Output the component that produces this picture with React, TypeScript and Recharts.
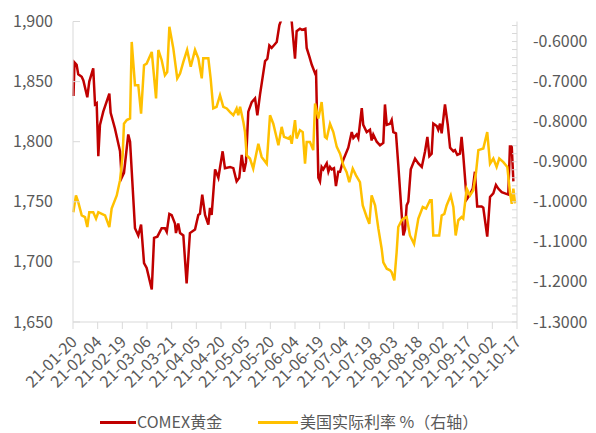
import React from 'react';
import { LineChart, Line, XAxis, YAxis, Legend } from 'recharts';

// x positions are days since 2021-01-20
const goldDays = [0.3,0.9,2.2,3.2,5.3,6.3,8.7,9.9,12.3,13.4,14.4,15.4,16.4,18.4,22.1,22.9,25.5,28.6,29.6,31.0,33.6,34.7,37.7,39.7,41.4,43.2,44.8,47.9,49.3,51.3,53.9,55.9,57.0,58.6,60.0,62.0,62.6,64.0,65.1,67.1,69.1,71.1,74.2,76.2,77.2,78.6,80.3,82.3,83.3,84.3,86.4,88.4,91.0,92.4,95.5,97.5,99.5,101.1,102.6,104.0,105.2,106.6,108.7,110.7,112.1,113.7,116.8,118.2,119.4,120.8,123.9,125.5,127.9,130.1,133.0,135.0,136.0,138.0,139.3,141.3,142.1,143.7,145.2,147.2,147.8,149.2,150.2,151.2,152.2,154.3,155.3,156.3,157.3,158.7,159.9,161.3,162.4,164.4,167.4,169.5,170.5,172.5,173.5,175.6,176.5,178.6,180.6,181.6,182.6,184.7,186.7,188.7,189.7,190.8,192.8,193.8,194.8,196.4,197.8,199.9,200.9,201.9,202.9,203.9,205.4,208.0,210.0,212.1,214.1,215.5,216.7,218.1,219.1,221.2,222.1,223.2,224.2,226.2,227.9,229.3,231.3,232.3,233.7,235.3,236.3,237.3,239.4,241.4,243.1,244.4,245.8,248.5,249.5,251.9,253.6,255.6,257.2,258.6,260.7,262.7,264.7,265.7,266.8,267.8];
const goldPrice = [1838,1866,1864,1856,1854,1851,1837,1850,1861,1831,1832,1788,1814,1825,1840,1824,1811,1792,1770,1774,1806,1800,1728,1722,1731,1699,1695,1677,1720,1721,1728,1728,1725,1740,1739,1732,1724,1732,1724,1722,1682,1724,1727,1739,1740,1756,1739,1731,1745,1739,1777,1770,1792,1778,1779,1778,1767,1770,1789,1775,1783,1825,1833,1836,1822,1839,1867,1869,1880,1878,1883,1897,1906,1910,1900,1869,1892,1894,1893,1894,1878,1871,1864,1857,1858,1770,1767,1779,1777,1782,1775,1779,1777,1778,1763,1775,1775,1785,1795,1808,1803,1806,1803,1828,1814,1808,1810,1801,1806,1800,1797,1799,1831,1814,1815,1818,1808,1807,1781,1739,1722,1727,1747,1750,1777,1786,1782,1779,1792,1804,1788,1790,1815,1813,1810,1815,1807,1831,1814,1795,1792,1793,1789,1790,1804,1789,1752,1756,1761,1775,1746,1746,1745,1721,1754,1757,1764,1761,1758,1757,1756,1796,1796,1767];

const rateDays = [0.2,1.8,3.2,5.3,7.3,8.7,9.9,12.3,14.0,15.4,17.5,19.5,22.1,23.5,26.6,28.6,30.2,31.0,32.7,34.7,35.7,37.7,39.7,41.4,43.2,44.8,47.9,50.5,51.9,53.9,55.9,57.3,58.6,61.0,63.4,65.1,67.1,69.4,71.6,74.2,76.2,78.3,79.2,82.3,83.7,85.3,87.3,89.4,91.4,93.5,95.5,97.5,99.5,100.5,101.6,103.6,104.6,105.6,107.6,109.6,112.7,114.7,117.8,119.8,121.8,124.9,126.9,128.3,130.9,132.0,133.0,135.0,136.0,138.0,139.7,141.1,142.1,144.1,146.1,147.2,149.2,151.2,153.2,154.3,156.3,158.3,160.4,162.4,164.4,166.4,168.0,170.1,172.1,174.5,176.2,178.6,180.2,181.6,183.7,185.7,187.7,188.7,190.8,192.8,193.8,195.4,196.8,197.8,199.9,200.9,202.9,204.9,207.4,210.0,212.7,214.7,217.1,218.1,219.1,222.7,224.2,225.8,227.2,229.7,231.3,232.7,234.3,236.3,237.3,239.4,241.4,243.4,245.1,246.5,249.5,251.9,253.6,255.6,257.6,259.2,261.7,264.1,265.7,266.8,267.8,268.8];
const rateValues = [-1.026,-0.984,-1.001,-1.034,-1.038,-1.063,-1.026,-1.026,-1.042,-1.026,-1.030,-1.034,-1.063,-1.017,-0.984,-0.946,-0.884,-0.805,-0.796,-0.792,-0.601,-0.709,-0.709,-0.780,-0.659,-0.655,-0.626,-0.742,-0.621,-0.646,-0.684,-0.676,-0.563,-0.617,-0.692,-0.680,-0.651,-0.621,-0.663,-0.621,-0.642,-0.692,-0.642,-0.642,-0.692,-0.767,-0.763,-0.734,-0.763,-0.767,-0.776,-0.784,-0.767,-0.784,-0.763,-0.801,-0.826,-0.884,-0.892,-0.917,-0.855,-0.888,-0.905,-0.784,-0.805,-0.859,-0.813,-0.838,-0.842,-0.838,-0.855,-0.796,-0.842,-0.821,-0.826,-0.905,-0.851,-0.851,-0.871,-0.755,-0.792,-0.751,-0.838,-0.842,-0.805,-0.826,-0.863,-0.880,-0.909,-0.926,-0.951,-0.917,-0.934,-0.951,-1.009,-1.038,-1.055,-0.984,-1.009,-1.067,-1.117,-1.151,-1.167,-1.171,-1.176,-1.196,-1.126,-1.063,-1.046,-1.042,-1.038,-1.084,-1.105,-1.042,-1.013,-1.017,-0.996,-0.996,-1.084,-1.084,-1.034,-1.030,-1.009,-0.984,-1.013,-1.084,-1.046,-1.038,-1.042,-0.967,-0.984,-0.971,-0.926,-0.871,-0.867,-0.826,-0.905,-0.892,-0.913,-0.892,-0.901,-0.913,-0.976,-1.005,-0.967,-1.004];

const tickDays = [0,15,30,45,60,75,90,105,120,135,150,165,180,195,210,225,240,255,270];
const tickLabels = ['21-01-20','21-02-04','21-02-19','21-03-06','21-03-21','21-04-05','21-04-20','21-05-05','21-05-20','21-06-04','21-06-19','21-07-04','21-07-19','21-08-03','21-08-18','21-09-02','21-09-17','21-10-02','21-10-17'];
const goldTicks = [1650,1700,1750,1800,1850,1900];
const rateMajorTicks = [-1.3,-1.2,-1.1,-1.0,-0.9,-0.8,-0.7,-0.6];

const rateTicks: number[] = [];
for (let i = 0; i <= 37; i++) rateTicks.push(Math.round((-1.3 + i * 0.02) * 100) / 100);

const goldData = goldDays.map((d, i) => ({ d, v: goldPrice[i] }));
const rateData = rateDays.map((d, i) => ({ d, v: rateValues[i] }));

const FONT = '"Noto Sans CJK SC", "Noto Sans", sans-serif';
const TXT = '#595959';
const AX = '#D9D9D9';
const RED = '#C00000';
const YEL = '#FFC000';

const LeftTick = (p: any) => {
  const { x, y, payload } = p;
  return (
    <g>
      <line x1={x} x2={x + 7} y1={y} y2={y} stroke={AX} />
      <text x={x - 20} y={y} dy={5.5} textAnchor="end" fill={TXT} fontSize={16} fontFamily={FONT}>
        {payload.value.toLocaleString('en-US')}
      </text>
    </g>
  );
};

const RightTick = (p: any) => {
  const { x, y, payload } = p;
  const major = rateMajorTicks.some((t) => Math.abs(t - payload.value) < 1e-6);
  return (
    <g>
      <line x1={x - 5} x2={x} y1={y} y2={y} stroke={AX} />
      {major && (
        <text x={x + 16} y={y} dy={5.5} textAnchor="start" fill={TXT} fontSize={16} fontFamily={FONT}>
          {payload.value.toFixed(4)}
        </text>
      )}
    </g>
  );
};

const BottomTick = (p: any) => {
  const { x, y, payload } = p;
  const idx = tickDays.indexOf(payload.value);
  return (
    <g>
      <line x1={x} x2={x} y1={y} y2={y + 7} stroke={AX} />
      <g transform={`translate(${x + 5},${y + 21})`}>
        <text x={0} y={0} textAnchor="end" transform="rotate(-45)" fill={TXT} fontSize={16} fontFamily={FONT}>
          {idx >= 0 ? tickLabels[idx] : ''}
        </text>
      </g>
    </g>
  );
};

const LegendContent = () => (
  <div style={{ position: 'relative', width: 588, height: 24, fontFamily: FONT, fontSize: 16, color: TXT }}>
    <div style={{ position: 'absolute', left: 92, top: 12, width: 36, height: 3, background: RED }} />
    <span style={{ position: 'absolute', left: 129, top: 0, lineHeight: '24px', whiteSpace: 'nowrap' }}>COMEX黄金</span>
    <div style={{ position: 'absolute', left: 250, top: 12, width: 40, height: 3, background: YEL }} />
    <span style={{ position: 'absolute', left: 292, top: 0, lineHeight: '24px', whiteSpace: 'nowrap' }}>美国实际利率 %（右轴）</span>
  </div>
);

export default function App() {
  return (
    <LineChart width={588} height={425} margin={{ top: 13.5, right: 0, left: 0, bottom: 0 }}>
      <XAxis
        dataKey="d"
        type="number"
        domain={[0, 270]}
        ticks={tickDays}
        interval={0}
        allowDuplicatedCategory={false}
        height={111}
        stroke={AX}
        tickLine={false}
        tickSize={0}
        tickMargin={0}
        tick={<BottomTick />}
      />
      <YAxis
        yAxisId="left"
        orientation="left"
        domain={[1650, 1900]}
        ticks={goldTicks}
        interval={0}
        allowDataOverflow
        width={65}
        stroke={AX}
        tickLine={false}
        tickSize={0}
        tickMargin={0}
        tick={<LeftTick />}
      />
      <YAxis
        yAxisId="right"
        orientation="right"
        domain={[-1.3, -0.55]}
        ticks={rateTicks}
        interval={0}
        allowDataOverflow
        width={79}
        stroke={AX}
        tickLine={false}
        tickSize={0}
        tickMargin={0}
        tick={<RightTick />}
      />
      <Line
        yAxisId="left"
        data={goldData}
        dataKey="v"
        name="COMEX黄金"
        stroke={RED}
        strokeWidth={2.5}
        dot={false}
        isAnimationActive={false}
      />
      <Line
        yAxisId="right"
        data={rateData}
        dataKey="v"
        name="美国实际利率 %（右轴）"
        stroke={YEL}
        strokeWidth={2.5}
        dot={false}
        isAnimationActive={false}
      />
      <Legend
        verticalAlign="middle"
        align="center"
        layout="horizontal"
        wrapperStyle={{ position: 'absolute', left: 0, top: 401, width: 588, height: 24 }}
        content={<LegendContent />}
      />
    </LineChart>
  );
}
